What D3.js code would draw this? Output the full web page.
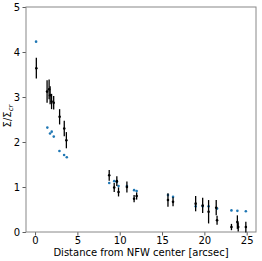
<!DOCTYPE html>
<html>
<head>
<meta charset="utf-8">
<script src="https://cdn.jsdelivr.net/npm/d3@7"></script>
<style>
  body { margin: 0; background: #fff; }
  svg { display: block; }
  text { font-family: "DejaVu Sans", sans-serif; }
</style>
</head>
<body>
<svg id="chart" width="262" height="261"></svg>
<script>
// measured profile (black, with errors)
const obsX   = [0.15, 1.42, 1.66, 1.78, 1.95, 2.2, 2.9, 3.45, 3.7,
                8.76, 9.35, 9.66, 9.86, 10.85, 11.7, 12.0, 15.7, 16.3,
                18.97, 19.8, 20.5, 21.4, 21.5, 23.2, 23.9, 24.0, 24.9];
const obsY   = [3.64, 3.12, 3.17, 3.04, 2.9, 2.87, 2.56, 2.30, 2.04,
                1.26, 0.99, 1.13, 0.89, 1.0, 0.74, 0.80, 0.71, 0.67,
                0.63, 0.59, 0.45, 0.54, 0.26, 0.11, 0.22, 0.11, 0.11];
const obsErr = [0.23, 0.25, 0.22, 0.2, 0.17, 0.15, 0.17, 0.17, 0.18,
                0.12, 0.1, 0.11, 0.1, 0.12, 0.08, 0.08, 0.15, 0.1,
                0.17, 0.17, 0.26, 0.17, 0.1, 0.07, 0.15, 0.1, 0.12];

// model profile (blue)
const modelX = [0.12, 1.45, 1.77, 1.97, 2.21, 2.88, 3.43, 3.75,
                8.76, 9.35, 9.66, 9.86, 10.85, 11.7, 12.0, 15.7, 16.3,
                18.97, 19.8, 20.5, 21.5, 23.2, 23.9, 24.9];
const modelY = [4.23, 2.32, 2.19, 2.23, 2.12, 1.80, 1.71, 1.66,
                1.09, 1.13, 1.11, 1.02, 1.02, 0.93, 0.91, 0.82, 0.78,
                0.57, 0.57, 0.57, 0.52, 0.48, 0.47, 0.46];

const xTicks = [0, 5, 10, 15, 20, 25];
const yTicks = [0, 1, 2, 3, 4, 5];

const svg = d3.select("#chart");
const m = { left: 26, right: 256, top: 7, bottom: 232 };

const x = d3.scaleLinear().domain([-1.07, 26.1]).range([m.left, m.right]);
const y = d3.scaleLinear().domain([0, 5]).range([m.bottom, m.top]);

// axes
const xAxis = svg.append("g")
    .attr("transform", `translate(0,${m.bottom})`)
    .call(d3.axisBottom(x).tickValues(xTicks).tickFormat(d3.format("d"))
        .tickSize(3.5).tickPadding(1.2));
const yAxis = svg.append("g")
    .attr("transform", `translate(${m.left},0)`)
    .call(d3.axisLeft(y).tickValues(yTicks).tickFormat(d3.format("d"))
        .tickSize(3.5).tickPadding(2.5));

[xAxis, yAxis].forEach(a => {
    a.select(".domain").remove();
    a.selectAll("line").attr("stroke", "#333").attr("stroke-width", 0.8);
    a.selectAll("text").attr("font-size", 10).attr("fill", "#000")
        .attr("font-family", "DejaVu Sans, sans-serif");
});

// frame
svg.append("rect")
    .attr("x", m.left).attr("y", m.top)
    .attr("width", m.right - m.left).attr("height", m.bottom - m.top)
    .attr("fill", "none").attr("stroke", "#888").attr("stroke-width", 1);

// labels
svg.append("text")
    .attr("x", (m.left + m.right) / 2).attr("y", 255.5)
    .attr("text-anchor", "middle").attr("font-size", 10)
    .text("Distance from NFW center [arcsec]");

const yl = svg.append("text")
    .attr("transform", `translate(11,116) rotate(-90)`)
    .attr("text-anchor", "middle").attr("font-size", 10);
yl.append("tspan").text("Σ/Σ");
yl.append("tspan").attr("font-style", "italic").attr("font-size", 7)
    .attr("dy", 2).text("cr");

// model points
svg.append("g").selectAll("circle")
    .data(d3.range(modelX.length))
    .join("circle")
    .attr("cx", i => x(modelX[i]))
    .attr("cy", i => y(modelY[i]))
    .attr("r", 1.3)
    .attr("fill", "#1f77b4");

// error bars
const g = svg.append("g");
g.selectAll("line")
    .data(d3.range(obsX.length))
    .join("line")
    .attr("x1", i => x(obsX[i])).attr("x2", i => x(obsX[i]))
    .attr("y1", i => y(obsY[i] - obsErr[i]))
    .attr("y2", i => y(obsY[i] + obsErr[i]))
    .attr("stroke", "#000").attr("stroke-width", 1.3);
g.selectAll("circle")
    .data(d3.range(obsX.length))
    .join("circle")
    .attr("cx", i => x(obsX[i]))
    .attr("cy", i => y(obsY[i]))
    .attr("r", 1.3)
    .attr("fill", "#000");
</script>
</body>
</html>
